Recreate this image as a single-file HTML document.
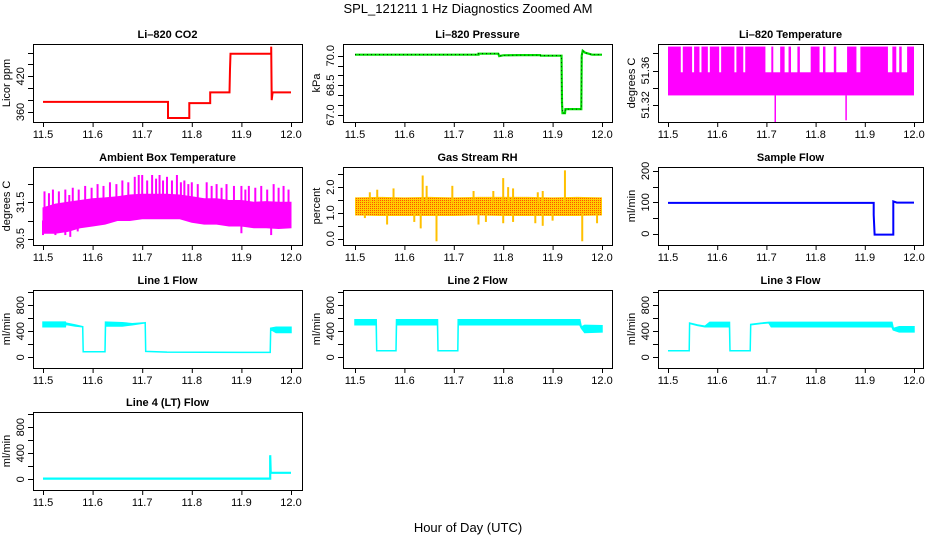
<!DOCTYPE html>
<html><head><meta charset="utf-8"><style>
body{margin:0;background:#fff}
svg{display:block;font-family:"Liberation Sans",sans-serif}
</style></head><body>
<svg id="chart" width="936" height="540" viewBox="0 0 936 540" xmlns="http://www.w3.org/2000/svg">
<defs>
<pattern id="rhpat" width="2" height="2" patternUnits="userSpaceOnUse"><rect width="2" height="2" fill="#ffcc00"/><rect width="1" height="1" fill="#ff5000"/></pattern>
</defs>
<text x="468" y="13" font-size="13" text-anchor="middle">SPL_121211  1 Hz Diagnostics Zoomed AM</text>
<text x="468" y="532" font-size="13" text-anchor="middle">Hour of Day (UTC)</text>
</svg>
<script>
// ---- data ----
const xTicks = [11.5, 11.6, 11.7, 11.8, 11.9, 12.0];
const xTickLabels = ["11.5", "11.6", "11.7", "11.8", "11.9", "12.0"];

const co2T = [11.5, 11.752, 11.752, 11.795, 11.795, 11.837, 11.837, 11.876, 11.877, 11.878, 11.96, 11.96, 11.961, 11.963, 12.0];
const co2V = [377, 377, 350, 350, 375, 375, 393, 393, 432, 458, 458, 470, 380, 393, 393];

const presT = [11.5, 11.75, 11.75, 11.79, 11.792, 11.8, 11.835, 11.875, 11.876, 11.918, 11.919, 11.92, 11.925, 11.926, 11.958, 11.959, 11.961, 11.966, 11.98, 12.0];
const presV = [70.05, 70.05, 70.1, 70.1, 69.98, 70.02, 70.03, 70.03, 70.0, 70.0, 67.6, 67.1, 67.1, 67.3, 67.3, 70.0, 70.25, 70.15, 70.05, 70.05];

const liTempBandLo = 51.331;
const liTempBandHi = 51.358;
const liTempPeak = 51.388;
const liTempHighStart = [11.500, 11.530, 11.553, 11.568, 11.585, 11.608, 11.639, 11.657, 11.710, 11.728, 11.745, 11.763, 11.790, 11.815, 11.837, 11.864, 11.891, 11.956, 11.970, 11.986];
const liTempHighEnd   = [11.526, 11.549, 11.564, 11.581, 11.604, 11.635, 11.653, 11.698, 11.714, 11.737, 11.750, 11.768, 11.808, 11.820, 11.842, 11.883, 11.947, 11.964, 11.975, 12.000];
const liTempDipT = [11.718, 11.862];
const liTempDipV = [51.300, 51.302];

const ambT = [11.5, 11.525, 11.55, 11.575, 11.6, 11.625, 11.65, 11.675, 11.7, 11.725, 11.75, 11.775, 11.8, 11.825, 11.85, 11.875, 11.9, 11.925, 11.95, 11.975, 12.0];
const ambLo = [30.65, 30.65, 30.7, 30.8, 30.85, 30.9, 31.0, 31.0, 31.05, 31.05, 31.05, 31.05, 30.95, 30.9, 30.9, 30.85, 30.85, 30.8, 30.8, 30.78, 30.8];
const ambHi = [31.35, 31.45, 31.5, 31.55, 31.6, 31.62, 31.65, 31.7, 31.72, 31.72, 31.72, 31.7, 31.65, 31.6, 31.6, 31.55, 31.55, 31.5, 31.52, 31.5, 31.5];
const ambSpikeT = [11.503, 11.512, 11.52, 11.532, 11.545, 11.553, 11.56, 11.572, 11.585, 11.598, 11.61, 11.622, 11.635, 11.648, 11.66, 11.672, 11.685, 11.693, 11.7, 11.71, 11.72, 11.728, 11.735, 11.742, 11.75, 11.76, 11.77, 11.778, 11.785, 11.793, 11.8, 11.812, 11.83, 11.84, 11.85, 11.86, 11.87, 11.885, 11.9, 11.908, 11.915, 11.928, 11.94, 11.952, 11.965, 11.975, 11.985, 11.995];
const ambSpikeV = [31.8, 31.75, 31.85, 31.8, 31.85, 31.7, 31.9, 31.85, 31.95, 31.9, 32.0, 31.95, 32.05, 32.0, 32.1, 32.05, 32.2, 32.25, 32.25, 32.1, 32.25, 32.15, 32.25, 32.1, 32.2, 32.1, 32.25, 32.05, 32.1, 32.0, 32.05, 32.0, 32.05, 31.95, 32.0, 31.9, 32.0, 31.95, 31.95, 31.85, 31.95, 31.9, 31.95, 31.85, 32.0, 31.9, 31.95, 31.85];
const ambDipT = [11.50, 11.525, 11.545, 11.555, 11.57, 11.9, 11.96];
const ambDipV = [30.6, 30.6, 30.6, 30.55, 30.7, 30.65, 30.6];

const rhT = [11.5, 11.55, 11.6, 11.65, 11.7, 11.75, 11.8, 11.85, 11.9, 11.95, 12.0];
const rhLo = [0.9, 0.88, 0.88, 0.88, 0.88, 0.9, 0.88, 0.88, 0.88, 0.88, 0.9];
const rhHi = [1.6, 1.62, 1.6, 1.62, 1.6, 1.62, 1.62, 1.62, 1.6, 1.62, 1.6];
const rhSpikeT = [11.53, 11.545, 11.578, 11.637, 11.645, 11.697, 11.74, 11.78, 11.8, 11.81, 11.82, 11.87, 11.88, 11.925];
const rhSpikeV = [1.8, 1.9, 1.95, 2.45, 2.05, 2.05, 1.85, 1.85, 2.35, 2.0, 1.95, 1.8, 1.85, 2.65];
const rhDipT = [11.52, 11.565, 11.62, 11.633, 11.665, 11.75, 11.765, 11.8, 11.82, 11.865, 11.88, 11.9, 11.96, 11.99];
const rhDipV = [0.8, 0.55, 0.65, 0.4, -0.1, 0.55, 0.65, 0.6, 0.65, 0.6, 0.5, 0.7, -0.1, 0.6];

const sfT = [11.5, 11.918, 11.918, 11.92, 11.958, 11.958, 11.965, 12.0];
const sfV = [98, 98, 60, -3, -3, 103, 99, 99];

const l1T  = [11.5, 11.545, 11.546, 11.565, 11.58, 11.581, 11.625, 11.626, 11.66, 11.68, 11.706, 11.707, 11.75, 11.9, 11.958, 11.959, 11.97, 12.0];
const l1Lo = [470, 470, 505, 480, 470, 85, 85, 480, 480, 500, 530, 90, 80, 75, 75, 430, 380, 380];
const l1Hi = [540, 540, 525, 495, 470, 85, 85, 540, 530, 515, 530, 90, 80, 75, 75, 445, 460, 460];

const l2T  = [11.5, 11.543, 11.544, 11.583, 11.584, 11.667, 11.668, 11.708, 11.709, 11.955, 11.958, 11.965, 12.0];
const l2Lo = [500, 500, 100, 100, 500, 500, 100, 100, 500, 500, 450, 380, 390];
const l2Hi = [575, 575, 100, 100, 575, 575, 100, 100, 575, 575, 465, 490, 485];

const l3T  = [11.5, 11.543, 11.544, 11.56, 11.575, 11.585, 11.625, 11.626, 11.667, 11.668, 11.69, 11.705, 11.71, 11.955, 11.958, 11.97, 12.0];
const l3Lo = [100, 100, 520, 490, 470, 470, 470, 100, 100, 500, 520, 530, 470, 470, 420, 390, 390];
const l3Hi = [100, 100, 525, 495, 475, 535, 535, 100, 100, 505, 525, 535, 535, 535, 440, 470, 470];

const l4T = [11.5, 11.958, 11.958, 11.959, 12.0];
const l4V = [10, 10, 370, 100, 100];

const flowTicks = [0, 200, 400, 600, 800, 1000];
const flowLabels = ["0", "", "400", "", "800", ""];

// ---- layout ----
const NS = "http://www.w3.org/2000/svg";
const svg = document.getElementById("chart");
const cols = [{bl:33,br:302,x0:43,x1:291},{bl:343,br:612,x0:355,x1:602},{bl:658,br:923,x0:668,x1:914}];
const rowBottoms = [122, 245, 368, 490];
const BH = 78;
function mk(tag, attrs, parent){const e=document.createElementNS(NS,tag);for(const k in attrs)e.setAttribute(k,attrs[k]);(parent||svg).appendChild(e);return e;}

function panel(row, col, title, ytitle, dom, yt, yl, name){
  const c = cols[col], bottom = rowBottoms[row], top = bottom - BH;
  const g = mk("g", {});
  
  
  const xs = t => c.x0 + (t - 11.5) / 0.5 * (c.x1 - c.x0);
  const ys = v => bottom - (v - dom[0]) / (dom[1] - dom[0]) * BH;
  const box = mk("rect", {x:c.bl+0.5, y:top+0.5, width:c.br-c.bl, height:BH, fill:"none", stroke:"#000", "stroke-width":1}, g);
  
  
  const tt = mk("text", {x:(c.bl+c.br)/2, y:top-6, "font-size":11, "font-weight":"bold", "text-anchor":"middle"}, g);
  tt.textContent = title;
  
  
  xTicks.forEach((t, i) => {
    mk("line", {x1:xs(t)+0.5, x2:xs(t)+0.5, y1:bottom, y2:bottom+5, stroke:"#000"}, g);
    const lb = mk("text", {x:xs(t), y:bottom+16, "font-size":11, "text-anchor":"middle"}, g);
    lb.textContent = xTickLabels[i];
    
    
  });
  yt.forEach((v, i) => {
    const y = Math.round(ys(v)) + 0.5;
    mk("line", {x1:c.bl-5, x2:c.bl, y1:y, y2:y, stroke:"#000"}, g);
    if (yl[i]) {
      const lb = mk("text", {x:0, y:0, "font-size":11, "text-anchor":"middle", transform:`translate(${c.bl-9},${ys(v)}) rotate(-90)`}, g);
      lb.textContent = yl[i];
      
      
    }
  });
  const at = mk("text", {x:0, y:0, "font-size":11, "text-anchor":"middle", transform:`translate(${c.bl-23},${top+BH/2}) rotate(-90)`}, g);
  at.textContent = ytitle;
  
  
  return {g, xs, ys};
}

function bandPath(p, T, lo, hi){
  let d = "M" + T.map((t,i)=>p.xs(t).toFixed(1)+","+p.ys(hi[i]).toFixed(1)).join("L");
  for (let i=T.length-1;i>=0;i--) d += "L"+p.xs(T[i]).toFixed(1)+","+p.ys(lo[i]).toFixed(1);
  return d + "Z";
}
function linePath(p, T, V){ return "M" + T.map((t,i)=>p.xs(t).toFixed(1)+","+p.ys(V[i]).toFixed(1)).join("L"); }
function vlines(p, T, from, V, color, w, nm){
  T.forEach((t,i)=>{
    const l = mk("line", {x1:p.xs(t), x2:p.xs(t), y1:p.ys(typeof from==="number"?from:from[i]), y2:p.ys(V[i]), stroke:color, "stroke-width":w}, p.g);
    
    
  });
}

// CO2
let p = panel(0,0,"Li\u2013820 CO2","Licor ppm",[343.2,474.3],[360,380,400,420,440,460],["360","","","420","",""],"co2");
let e = mk("path",{d:linePath(p,co2T,co2V),fill:"none",stroke:"#ff0000","stroke-width":2},p.g);
 

// Pressure
p = panel(0,1,"Li\u2013820 Pressure","kPa",[66.65,70.59],[67,67.5,68,68.5,69,69.5,70],["67.0","","","68.5","","","70.0"],"pressure");
e = mk("path",{d:linePath(p,presT,presV),fill:"none",stroke:"#00e000","stroke-width":2.2},p.g);
 
e = mk("path",{d:linePath(p,presT,presV),fill:"none",stroke:"#000","stroke-width":0.8,"stroke-dasharray":"1 3"},p.g);
 

// Li-820 temperature
p = panel(0,2,"Li\u2013820 Temperature","degrees C",[51.300,51.391],[51.32,51.34,51.36,51.38],["51.32","","51.36",""],"li820-temp");
e = mk("rect",{x:p.xs(11.5),y:p.ys(liTempBandHi),width:p.xs(12.0)-p.xs(11.5),height:p.ys(liTempBandLo)-p.ys(liTempBandHi),fill:"#ff00ff"},p.g);
 
liTempHighStart.forEach((s,i)=>{
  const r = mk("rect",{x:p.xs(s),y:p.ys(liTempPeak),width:Math.max(1,p.xs(liTempHighEnd[i])-p.xs(s)),height:p.ys(liTempBandHi)-p.ys(liTempPeak)+1,fill:"#ff00ff"},p.g);
   
});
vlines(p, liTempDipT, liTempBandLo, liTempDipV, "#ff00ff", 1.5, "li820-temp-dip");

// Ambient box temperature
p = panel(1,0,"Ambient Box Temperature","degrees C",[30.327,32.47],[30.5,31,31.5,32],["30.5","","31.5",""],"ambient-temp");
e = mk("path",{d:bandPath(p,ambT,ambLo,ambHi),fill:"#ff00ff",stroke:"#ff00ff","stroke-width":1},p.g);
 
vlines(p, ambSpikeT, 31.3, ambSpikeV, "#ff00ff", 2, "ambient-temp-spike");
vlines(p, ambDipT, 31.0, ambDipV, "#ff00ff", 2, "ambient-temp-dip");

// Gas stream RH
p = panel(1,1,"Gas Stream RH","percent",[-0.244,2.78],[0,0.5,1,1.5,2,2.5],["0.0","","1.0","","2.0",""],"rh");
e = mk("path",{d:bandPath(p,rhT,rhLo,rhHi),fill:"url(#rhpat)"},p.g);
 
vlines(p, rhSpikeT, 1.4, rhSpikeV, "#ffc000", 2, "rh-spike");
vlines(p, rhDipT, 1.0, rhDipV, "#ffc000", 2, "rh-dip");

// Sample flow
p = panel(1,2,"Sample Flow","ml/min",[-36,212.4],[0,50,100,150,200],["0","","100","","200"],"sample-flow");
e = mk("path",{d:linePath(p,sfT,sfV),fill:"none",stroke:"#0000ff","stroke-width":2},p.g);
 

// Line flows
const flowDom = [-164.6, 1033];
[[2,0,"Line 1 Flow",l1T,l1Lo,l1Hi,"line1-flow"],[2,1,"Line 2 Flow",l2T,l2Lo,l2Hi,"line2-flow"],[2,2,"Line 3 Flow",l3T,l3Lo,l3Hi,"line3-flow"]].forEach(a=>{
  const pp = panel(a[0],a[1],a[2],"ml/min",flowDom,flowTicks,flowLabels,a[6]);
  const s = mk("path",{d:bandPath(pp,a[3],a[4],a[5]),fill:"#00ffff",stroke:"#00ffff","stroke-width":1.5,"stroke-linejoin":"miter"},pp.g);
  
  
});
p = panel(3,0,"Line 4 (LT) Flow","ml/min",flowDom,flowTicks,flowLabels,"line4-flow");
e = mk("path",{d:linePath(p,l4T,l4V),fill:"none",stroke:"#00ffff","stroke-width":2.2},p.g);
 
</script>
</body></html>
